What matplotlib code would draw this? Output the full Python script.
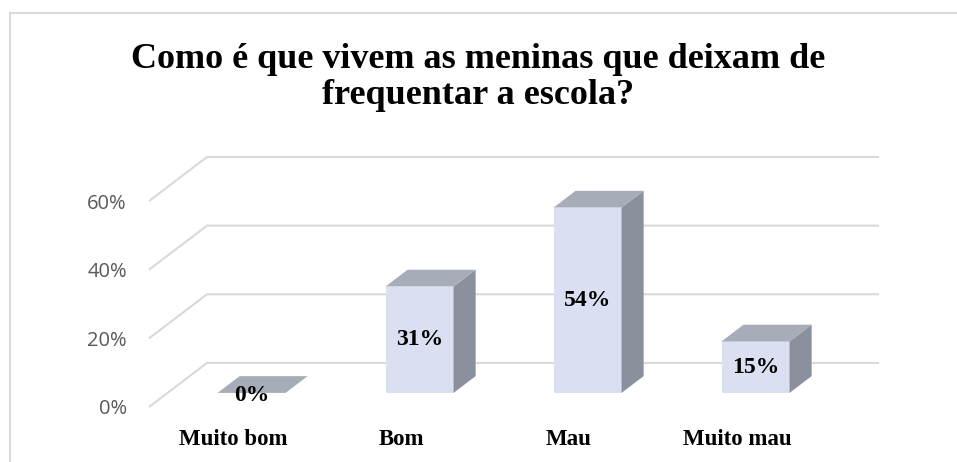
import matplotlib
matplotlib.use("Agg")
import matplotlib.pyplot as plt
from matplotlib.patches import Polygon
from matplotlib.lines import Line2D

# ---- data ----
categories = ["Muito bom", "Bom", "Mau", "Muito mau"]
values = [0, 31, 54, 15]          # percent
yticks = [0, 20, 40, 60]
title_lines = ["Como é que vivem as meninas que deixam de", "frequentar a escola?"]

# ---- styling ----
FRONT = "#DAE0F1"
TOP = "#A6ACB8"
SIDE = "#8A919C"
GRID = "#D9D9D9"
SERIF = ["Liberation Serif", "DejaVu Serif"]

W_PX, H_PX = 957, 462
fig = plt.figure(figsize=(W_PX / 100, H_PX / 100), dpi=100)

# pseudo-3D geometry (in data units)
DX = 58 / 168.0          # floor depth in category units
DY = 44 / 3.425          # floor depth in value units (%)
BAR_W = 0.405
D_FRONT = 0.32           # bar front depth fraction
D_BACK = 0.70            # bar back depth fraction

# axes placement (pixels): x=-0.5 at px 149, y=0 at px 407
left_px, right_px = 149, 879
bot_px, top_px = 407, 157
ax = fig.add_axes([left_px / W_PX, 1 - bot_px / H_PX,
                   (right_px - left_px) / W_PX, (bot_px - top_px) / H_PX])
ax.set_xlim(-0.5, len(categories) - 0.5 + DX)
ax.set_ylim(0, 60 + DY)
for s in ax.spines.values():
    s.set_visible(False)

# gridlines: diagonal side wall + back wall
x0 = -0.5
x1 = len(categories) - 0.5
for v in yticks:
    ax.plot([x0, x0 + DX, x1 + DX], [v, v + DY, v + DY], color=GRID,
            lw=1.5, clip_on=False, zorder=1, solid_capstyle="butt")

# bars
fx, fy = D_FRONT * DX, D_FRONT * DY
bx, by = (D_BACK - D_FRONT) * DX, (D_BACK - D_FRONT) * DY
for i, v in enumerate(values):
    xl = i - BAR_W / 2 + fx
    xr = i + BAR_W / 2 + fx
    yb = fy
    yt = fy + v
    front = Polygon([(xl, yb), (xr, yb), (xr, yt), (xl, yt)], closed=True,
                    facecolor=FRONT, edgecolor="none", zorder=3, clip_on=False)
    side = Polygon([(xr, yb), (xr + bx, yb + by), (xr + bx, yt + by), (xr, yt)],
                   closed=True, facecolor=SIDE, edgecolor="none", zorder=3, clip_on=False)
    top = Polygon([(xl, yt), (xr, yt), (xr + bx, yt + by), (xl + bx, yt + by)],
                  closed=True, facecolor=TOP, edgecolor="none", zorder=3, clip_on=False)
    if v > 0:
        ax.add_patch(front)
        ax.add_patch(side)
    ax.add_patch(top)
    ax.text((xl + xr) / 2, yb + v / 2 - (0.9 if v == 0 else 0), f"{v}%",
            ha="center", va="center", fontsize=17, fontweight="bold",
            family=SERIF, color="black", zorder=5)

# axis ticks & labels
ax.set_yticks(yticks)
ax.set_yticklabels([f"{t}%" for t in yticks], family=["Open Sans", "DejaVu Sans"],
                   fontsize=14.5, color="#595959")
ax.tick_params(axis="y", length=0, pad=16)
ax.set_xticks(range(len(categories)))
ax.set_xticklabels(categories, family=SERIF, fontsize=16.5, fontweight="bold",
                   color="black")
ax.tick_params(axis="x", length=0, pad=16)

# title (two lines, baselines placed separately)
for line, base_px in zip(title_lines, [68, 104]):
    fig.text(0.5, 1 - base_px / H_PX, line, ha="center", va="baseline",
             family=SERIF, fontsize=26, fontweight="bold")

# chart border (top and left visible)
fig.add_artist(Line2D([9.5 / W_PX, 1], [1 - 13 / H_PX, 1 - 13 / H_PX],
                      transform=fig.transFigure, color=GRID, lw=1.5))
fig.add_artist(Line2D([9.5 / W_PX, 9.5 / W_PX], [0, 1 - 13 / H_PX],
                      transform=fig.transFigure, color=GRID, lw=1.5))

fig.savefig("out.png", dpi=100, facecolor="white")
